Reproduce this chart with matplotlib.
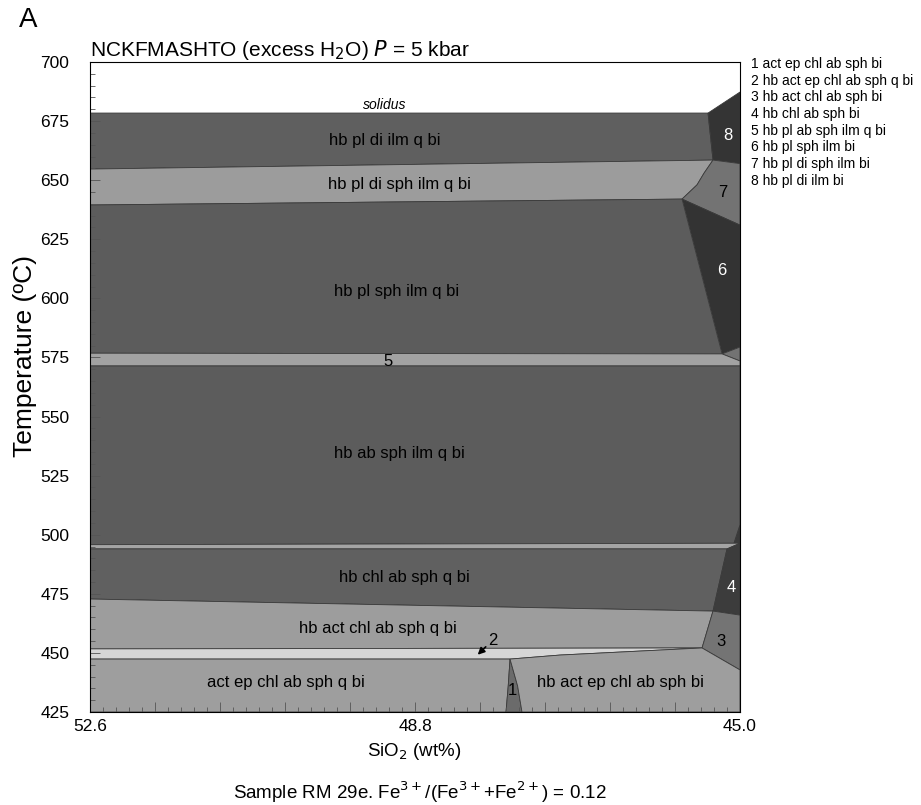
import matplotlib.pyplot as plt
import numpy as np
from matplotlib.patches import Polygon
from matplotlib.ticker import FixedLocator, MultipleLocator

plt.rcParams['font.family'] = ['Liberation Sans', 'DejaVu Sans']

# field boundaries (SiO2 wt%, T degC)
di_ilm_x = [52.6, 45.374, 45.316, 52.6]
di_ilm_t = [678.4, 678.4, 658.5, 654.7]
f8_x = [45.374, 45.0, 45.0, 45.316]
f8_t = [678.4, 687.3, 657.0, 658.5]
di_sph_x = [52.6, 45.316, 45.42, 45.503, 45.678, 52.6]
di_sph_t = [654.7, 658.5, 653.0, 648.0, 642.0, 639.5]
f7_x = [45.316, 45.0, 45.0, 45.678, 45.503, 45.42]
f7_t = [658.5, 657.0, 631.0, 642.0, 648.0, 653.0]
f6_x = [45.678, 45.0, 45.0, 45.21]
f6_t = [642.0, 631.0, 579.4, 576.5]
small_x = [45.21, 45.0, 45.0]
small_t = [576.5, 579.4, 573.5]
sph_ilm_x = [52.6, 45.678, 45.21, 52.6]
sph_ilm_t = [639.5, 642.0, 576.5, 576.8]
f5_x = [52.6, 45.21, 45.0, 45.0, 52.6]
f5_t = [576.8, 576.5, 573.5, 571.4, 571.4]
ab_ilm_x = [52.6, 45.0, 45.0, 45.07, 52.6]
ab_ilm_t = [571.4, 571.4, 504.1, 496.4, 495.8]
sliver_x = [45.0, 45.07, 45.0]
sliver_t = [504.1, 496.4, 496.4]
band_x = [52.6, 45.0, 45.152, 52.6]
band_t = [495.8, 496.4, 494.0, 494.0]
chl_x = [52.6, 45.152, 45.316, 52.6]
chl_t = [494.0, 494.0, 467.7, 472.8]
f4_x = [45.152, 45.0, 45.0, 45.316]
f4_t = [494.0, 496.4, 466.0, 467.7]
act_chl_x = [52.6, 45.316, 45.444, 52.6]
act_chl_t = [472.8, 467.7, 452.1, 451.7]
f3_x = [45.316, 45.0, 45.0, 45.444]
f3_t = [467.7, 466.0, 442.8, 452.1]
f2_x = [52.6, 45.444, 47.105, 47.689, 52.6]
f2_t = [451.7, 452.1, 449.1, 447.4, 447.4]
ep_q_x = [52.6, 47.689, 47.71, 47.736, 52.6]
ep_q_t = [447.4, 447.4, 436.0, 425.0, 425.0]
f1_x = [47.689, 47.71, 47.736, 47.549, 47.6]
f1_t = [447.4, 436.0, 425.0, 425.0, 436.0]
ep_bi_x = [47.689, 47.6, 47.549, 45.0, 45.0, 45.444, 47.105]
ep_bi_t = [447.4, 436.0, 425.0, 425.0, 442.8, 452.1, 449.1]

fields = [
    (di_ilm_x, di_ilm_t, '#5f5f5f'), (f8_x, f8_t, '#343434'),
    (di_sph_x, di_sph_t, '#9c9c9c'), (f7_x, f7_t, '#737373'),
    (f6_x, f6_t, '#333333'), (small_x, small_t, '#737373'),
    (sph_ilm_x, sph_ilm_t, '#5c5c5c'), (f5_x, f5_t, '#a2a2a2'),
    (ab_ilm_x, ab_ilm_t, '#5c5c5c'), (sliver_x, sliver_t, '#3a3a3a'),
    (band_x, band_t, '#a4a4a4'), (chl_x, chl_t, '#606060'),
    (f4_x, f4_t, '#3c3c3c'), (act_chl_x, act_chl_t, '#9d9d9d'),
    (f3_x, f3_t, '#747474'), (f2_x, f2_t, '#d6d6d6'),
    (ep_q_x, ep_q_t, '#9e9e9e'), (f1_x, f1_t, '#6b6b6b'),
    (ep_bi_x, ep_bi_t, '#9e9e9e'),
]

# field labels
label_text = ['hb pl di ilm q bi', 'hb pl di sph ilm q bi', 'hb pl sph ilm q bi', '5',
              'hb ab sph ilm q bi', 'hb chl ab sph q bi', 'hb act chl ab sph q bi',
              'act ep chl ab sph q bi', 'hb act ep chl ab sph bi', '1', '3', '4', '6', '7', '8']
label_x = [49.15, 48.98, 49.02, 49.12, 48.98, 48.92, 49.23, 50.31, 46.40, 47.666, 45.22, 45.105, 45.21, 45.20, 45.14]
label_t = [666.6, 648.0, 603.1, 573.3, 534.2, 481.7, 460.5, 437.3, 437.3, 434.3, 455.0, 477.5, 611.6, 644.6, 668.7]
label_col = ['k'] * 11 + ['white', 'white', 'k', 'white']

legend_lines = ['1 act ep chl ab sph bi', '2 hb act ep chl ab sph q bi', '3 hb act chl ab sph bi',
                '4 hb chl ab sph bi', '5 hb pl ab sph ilm q bi', '6 hb pl sph ilm bi',
                '7 hb pl di sph ilm bi', '8 hb pl di ilm bi']

fig = plt.figure(figsize=(9.21, 8.05), dpi=100)
ax = fig.add_axes([0.0977, 0.1155, 0.7058, 0.8075])

for xs, ts, col in fields:
    ax.add_patch(Polygon(np.column_stack([xs, ts]), closed=True, facecolor=col,
                         edgecolor='#3a3a3a', linewidth=0.6))

for txt, x, t, c in zip(label_text, label_x, label_t, label_col):
    ax.text(x, t, txt, ha='center', va='center', fontsize=12, color=c)

ax.text(49.15, 681.8, 'solidus', ha='center', va='center', fontsize=10, style='italic')
ax.annotate('', xy=(48.09, 448.4), xytext=(47.95, 453.4),
            arrowprops=dict(arrowstyle='-|>', color='k', lw=1.2, mutation_scale=10))
ax.text(47.89, 455.4, '2', ha='center', va='center', fontsize=12)

ax.set_xlim(52.6, 45.0)
ax.set_ylim(425, 700)
ax.xaxis.set_major_locator(FixedLocator(np.linspace(45.0, 52.6, 11)))
ax.set_xticklabels(['45.0', '', '', '', '', '48.8', '', '', '', '', '52.6'])
ax.xaxis.set_minor_locator(FixedLocator(np.linspace(45.0, 52.6, 51)))
ax.yaxis.set_major_locator(MultipleLocator(25))
ax.yaxis.set_minor_locator(MultipleLocator(5))
ax.tick_params(which='both', direction='in', top=False, right=False, labelsize=12.5,
               width=0.6, color='#555555')
ax.tick_params(which='major', length=7)
ax.tick_params(which='minor', length=3.5)
ax.tick_params(axis='x', pad=5)
ax.tick_params(axis='y', pad=15)
for s in ax.spines.values():
    s.set_linewidth(0.8)

fig.text(0.027, 0.558, 'Temperature (ºC)', fontsize=19, rotation=90, ha='center', va='center')
fig.text(0.45, 0.066, 'SiO$_2$ (wt%)', fontsize=13.5, ha='center', va='center')
ax.set_title('NCKFMASHTO (excess H$_2$O) $\\it{P}$ = 5 kbar', loc='left', fontsize=15, pad=4)
fig.text(0.021, 0.975, 'A', fontsize=20, va='center', ha='left')
fig.text(0.456, 0.016, 'Sample RM 29e. Fe$^{3+}$/(Fe$^{3+}$+Fe$^{2+}$) = 0.12',
         fontsize=13.5, ha='center', va='center')

for i, line in enumerate(legend_lines):
    fig.text(0.8155, 0.9205 - i * 0.0207, line, fontsize=10, ha='left', va='center')

fig.savefig('out.png', dpi=100)
